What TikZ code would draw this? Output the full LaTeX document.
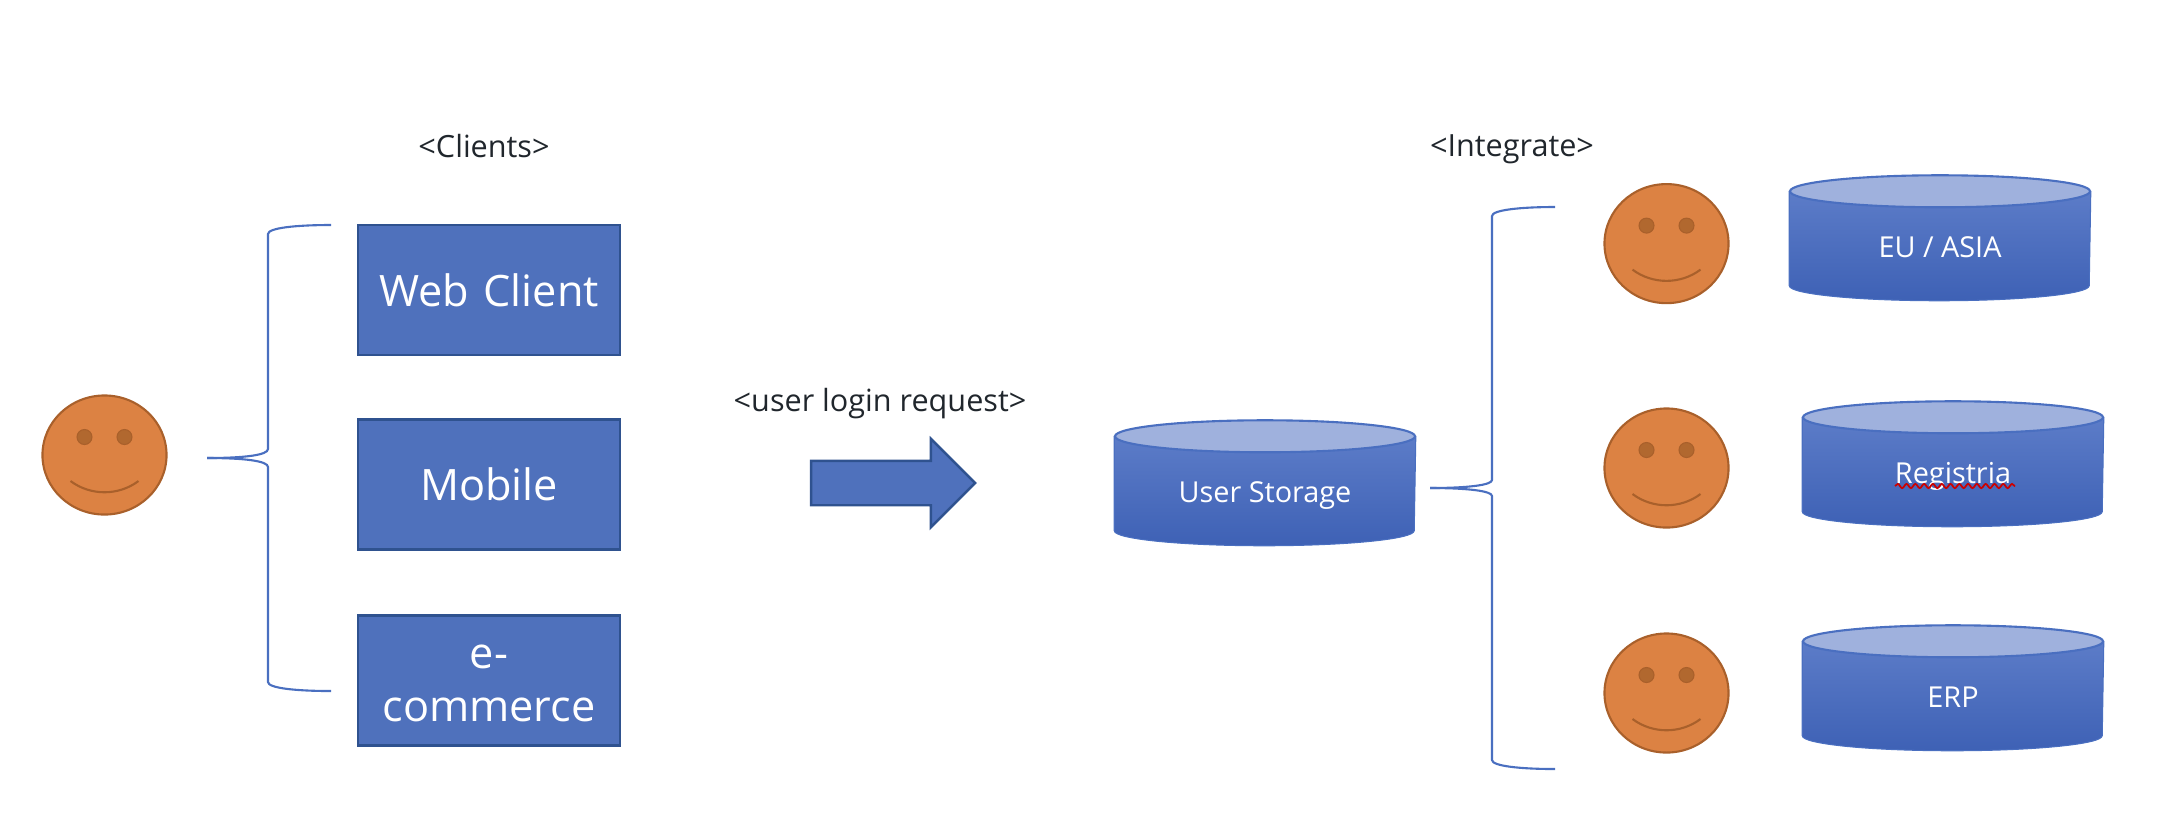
\documentclass[tikz,border=0pt]{standalone}
\usepackage{fontspec}
\setmainfont{Open Sans}
\usetikzlibrary{shapes.geometric,shapes.arrows,decorations.pathmorphing}
\definecolor{boxblue}{HTML}{4F71BC}
\definecolor{boxline}{HTML}{2F528F}
\definecolor{facefill}{HTML}{DC8243}
\definecolor{faceline}{HTML}{A9602B}
\definecolor{eyefill}{HTML}{B1682F}
\definecolor{capblue}{HTML}{9FB1DD}
\definecolor{capline}{HTML}{4A6FC0}
\definecolor{bodytop}{HTML}{5C7CC8}
\definecolor{bodybot}{HTML}{3E61B5}
\definecolor{labelgray}{HTML}{20262C}
\tikzset{
  clientbox/.style={draw=boxline,line width=0.7pt,fill=boxblue,text=white,minimum width=2.62cm,minimum height=1.3cm,inner sep=0pt,align=center,text width=2.62cm,font=\fontsize{12.3}{15}\selectfont},
  facenode/.style={ellipse,draw=faceline,line width=0.6pt,fill=facefill,minimum width=1.24cm,minimum height=1.19cm,inner sep=0pt},
  storenode/.style={minimum width=3cm,minimum height=1.24cm,inner sep=0pt},
  storetext/.style={text=white,anchor=base,font=\fontsize{8.2}{10}\selectfont},
  toplabel/.style={text=labelgray,font=\fontsize{8.7}{10}\selectfont},
  bracket/.style={draw=capline,line width=0.6pt}
}
\def\dface#1#2{
  \node[facenode] (#1) at (#2) {};
  \filldraw[fill=eyefill,draw=faceline,line width=0.3pt] ([shift={(-20,-18)}]#1.center) ellipse [x radius=7.5,y radius=7.5];
  \filldraw[fill=eyefill,draw=faceline,line width=0.3pt] ([shift={(20,-18)}]#1.center) ellipse [x radius=7.5,y radius=7.5];
  \draw[faceline,line width=0.6pt] ([shift={(-34,26)}]#1.center) .. controls ([shift={(-14,41)}]#1.center) and ([shift={(14,41)}]#1.center) .. ([shift={(34,26)}]#1.center);
}
\def\dstore#1#2#3{
  \node[storenode] (#1) at (#2) {};
  \shade[top color=bodytop,bottom color=bodybot,draw=capline,line width=0.3pt] ([shift={(0,16)}]#1.north west) -- ([shift={(0,-15)}]#1.south west) arc [start angle=180,delta angle=-180,x radius=150,y radius=15] -- ([shift={(0,16)}]#1.north east) -- cycle;
  \draw[capline,line width=0.6pt,fill=capblue] ([shift={(0,16)}]#1.north) ellipse [x radius=150,y radius=16];
  \node[storetext] (#1text) at ([shift={(0,19.5)}]#1.center) {#3};
}
\begin{document}
\begin{tikzpicture}[x=0.01cm,y=-0.01cm]
  \useasboundingbox (0,0) rectangle (2164,832);
  % left side
  \dface{userface}{104.5,455}
  \node[clientbox] (web) at (489,290) {Web Client};
  \node[clientbox] (mobile) at (489,484.5) {Mobile};
  \node[clientbox] (shop) at (489,680.5) {\rule{0pt}{8.4pt}e-\\commerce};
  \node[toplabel] (clients) at (484,146) {<Clients>};
  \coordinate (ltip) at (207,458);
  \coordinate (ltop) at (331,225);
  \coordinate (lbot) at (331,691);
  \draw[bracket] (ltip) .. controls (245,458) and (268,455) .. (268,449) -- (268,234) .. controls (268,228) and (295,225) .. (ltop);
  \draw[bracket] (ltip) .. controls (245,458) and (268,461) .. (268,467) -- (268,682) .. controls (268,688) and (295,691) .. (lbot);
  % middle
  \node[toplabel] (request) at (880,404) {<user login request>};
  \node[single arrow,draw=boxline,line width=0.7pt,fill=boxblue,minimum height=1.64cm,minimum width=0.86cm,single arrow head extend=0.22cm,single arrow tip angle=90,inner xsep=0pt,inner ysep=0.21cm] (go) at (882,483) {};
  \dstore{users}{1265,483}{User Storage}
  % right side
  \coordinate (rtip) at (1430,488);
  \coordinate (rtop) at (1555,207);
  \coordinate (rbot) at (1555,769);
  \draw[bracket] (rtip) .. controls (1468,488) and (1492,485) .. (1492,480) -- (1492,216) .. controls (1492,210) and (1520,207) .. (rtop);
  \draw[bracket] (rtip) .. controls (1468,488) and (1492,491) .. (1492,496) -- (1492,760) .. controls (1492,766) and (1520,769) .. (rbot);
  \node[toplabel] (integrate) at (1512,149) {<Integrate>};
  \dface{euface}{1666.5,243.6}
  \dface{regface}{1666.5,468}
  \dface{erpface}{1666.5,693}
  \dstore{eu}{1940,238}{EU / ASIA}
  \dstore{reg}{1953,464}{Registria}
  \dstore{erp}{1953,688}{ERP}
  \coordinate (wavestart) at (1895,486);
  \coordinate (waveend) at (2015,486);
  \draw[red!80!black,line width=0.5pt,decorate,decoration={snake,amplitude=0.6pt,segment length=2.5pt}] (wavestart) -- (waveend);
\end{tikzpicture}
\end{document}
